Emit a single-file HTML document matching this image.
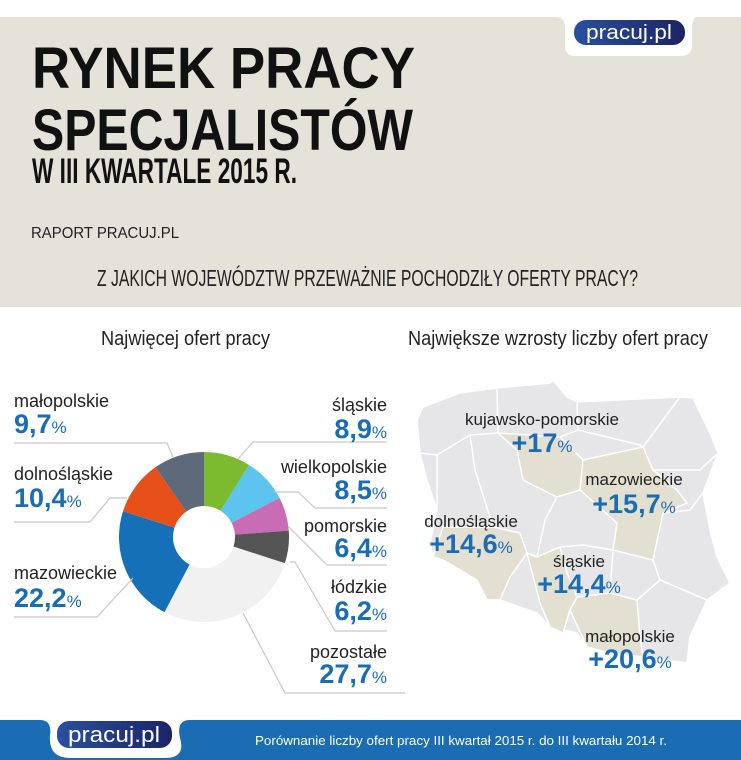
<!DOCTYPE html>
<html><head><meta charset="utf-8"><style>
html,body{margin:0;padding:0;background:#fff;width:741px;height:760px;overflow:hidden}
svg{display:block;font-family:"Liberation Sans",sans-serif}
</style></head><body>
<svg id="root" width="741" height="760" viewBox="0 0 741 760">
  <rect x="0" y="17" width="741" height="290" fill="#e4e2d9"/>
  <path d="M560,17 L697,17 Q692,17 692,30 L692,45 Q692,56 680,56 L575,56 Q565,56 565,45 L565,28 Q565,17 556,17 Z" fill="#fff"/>
  <defs><linearGradient id="pill" x1="0" y1="0" x2="1" y2="0"><stop offset="0" stop-color="#2a4fa0"/><stop offset="1" stop-color="#1b2464"/></linearGradient></defs>
  <g>
    <rect x="574" y="20" width="111" height="25" rx="12" fill="url(#pill)"/>
    <text x="629" y="39" font-size="20" fill="#fff" text-anchor="middle" textLength="86" lengthAdjust="spacingAndGlyphs">pracuj.pl</text>
  </g>
  <text x="32" y="88" font-size="58" font-weight="bold" textLength="383" lengthAdjust="spacingAndGlyphs" fill="#111">RYNEK PRACY</text>
  <text x="32" y="150" font-size="58" font-weight="bold" textLength="381" lengthAdjust="spacingAndGlyphs" fill="#111">SPECJALISTÓW</text>
  <text x="32" y="183" font-size="35" font-weight="bold" textLength="265" lengthAdjust="spacingAndGlyphs" fill="#111">W III KWARTALE 2015 R.</text>
  <text x="31" y="238" font-size="16" textLength="148" lengthAdjust="spacingAndGlyphs" fill="#222">RAPORT PRACUJ.PL</text>
  <text x="97" y="286" font-size="23" textLength="541" lengthAdjust="spacingAndGlyphs" fill="#222">Z JAKICH WOJEWÓDZTW PRZEWAŻNIE POCHODZIŁY OFERTY PRACY?</text>

  <text x="101" y="345" font-size="20" textLength="169" lengthAdjust="spacingAndGlyphs" fill="#222">Najwięcej ofert pracy</text>
  <text x="408" y="345" font-size="20" textLength="300" lengthAdjust="spacingAndGlyphs" fill="#222">Największe wzrosty liczby ofert pracy</text>

  <g id="donut"></g>
  <g id="leaders" fill="none" stroke="#c8c8c8" stroke-width="1.2">
    <polyline points="14,443 167,443 173,457"/>
    <polyline points="14,522 90,522 110,498 127,498"/>
    <polyline points="14,617 97,617 133,578"/>
    <polyline points="387,442 253,442 238,459"/>
    <polyline points="387,508 315,508 298,492 275,492"/>
    <polyline points="387,565 327,565 288,526"/>
    <polyline points="387,631 335,631 295,562 290,562"/>
    <polyline points="405,693 285,693 243,613"/>
  </g>
  <g id="labels"></g>

  <g>
    <polygon points="423,407 460,393 497,388 550,383 553,380 567,397 577,402 680,397 693,398 710,433 718,453 703,493 710,530 717,557 730,583 707,600 690,637 687,663 663,660 637,657 610,653 587,647 577,633 550,627 537,613 500,600 487,600 477,580 443,560 433,557 430,543 437,510 427,480 420,453 417,420" fill="#e6e6e8" stroke="#fff" stroke-width="1.5"/>
    <g fill="#e3e0d1" stroke="#fff" stroke-width="1.5">
      <polygon points="498,433 560,437 583,460 580,490 557,497 523,480 517,450"/>
      <polygon points="583,460 643,447 653,470 677,490 687,503 663,513 653,560 613,550 617,523 580,490"/>
      <polygon points="433,557 443,527 493,527 520,533 527,553 510,577 500,600 487,600 477,580 443,560"/>
      <polygon points="537,557 560,547 567,573 577,597 570,610 563,633 550,627 540,603 527,553"/>
      <polygon points="577,597 610,593 637,600 640,637 643,657 610,653 587,647 570,610"/>
    </g>
    <g fill="none" stroke="#fff" stroke-width="1.5">
      <polyline points="497,388 498,433 470,435 437,455 420,453"/>
      <polyline points="470,435 475,470 493,527"/>
      <polyline points="437,455 437,510"/>
      <polyline points="577,402 578,430 560,437"/>
      <polyline points="578,430 640,445 643,447 680,397"/>
      <polyline points="653,470 700,470 718,453"/>
      <polyline points="663,513 690,510 703,493"/>
      <polyline points="653,560 660,580 707,600"/>
      <polyline points="610,593 613,550"/>
      <polyline points="637,600 660,580"/>
      <polyline points="557,497 545,520 537,557"/>
      <polyline points="560,547 583,545 613,550"/>
    </g>
  </g>

  <g id="maplabels"></g>

  <rect x="0" y="720" width="741" height="40" fill="#1a6db3"/>
  <path d="M40,720 Q52,720 50,735 Q48,758 70,758 L165,758 Q186,758 180,738 Q176,720 190,720 Z" fill="#fff"/>
  <g>
    <rect x="57" y="721" width="115" height="27" rx="12" fill="url(#pill)"/>
    <text x="114" y="742" font-size="22" fill="#fff" text-anchor="middle" textLength="92" lengthAdjust="spacingAndGlyphs">pracuj.pl</text>
  </g>
  <text x="255" y="745" font-size="13" fill="#fff" textLength="412" lengthAdjust="spacingAndGlyphs">Porównanie liczby ofert pracy III kwartał 2015 r. do III kwartału 2014 r.</text>
</svg>
<script>
const categories = ["śląskie","wielkopolskie","pomorskie","łódzkie","pozostałe","mazowieckie","dolnośląskie","małopolskie"];
const shares = [8.9, 8.5, 6.4, 6.2, 27.7, 22.2, 10.4, 9.7];
const shareLabels = ["8,9","8,5","6,4","6,2","27,7","22,2","10,4","9,7"];
const growthRegions = ["kujawsko-pomorskie","mazowieckie","dolnośląskie","śląskie","małopolskie"];
const growthLabels = ["+17","+15,7","+14,6","+14,4","+20,6"];

const NS = "http://www.w3.org/2000/svg";
const sliceColors = ["#7cba2f","#5cc4ef","#c96cb6","#555555","#f1f1f1","#1570b8","#e8501a","#5e6a7a"];
const cx = 204, cy = 537, R = 85, r = 31;
const total = shares.reduce((a,b)=>a+b,0);
function angle(v){ return v/total*2*Math.PI - Math.PI/2; }
function pt(a, rad){ return [cx+rad*Math.cos(a), cy+rad*Math.sin(a)]; }
const donut = document.getElementById("donut");
let acc = 0;
shares.forEach((v,i)=>{
  const a0 = angle(acc), a1 = angle(acc+v); acc += v;
  const large = (a1-a0) > Math.PI ? 1 : 0;
  const p0=pt(a0,R), p1=pt(a1,R), q1=pt(a1,r), q0=pt(a0,r);
  const p = document.createElementNS(NS,"path");
  p.setAttribute("d",`M${p0[0]},${p0[1]} A${R},${R} 0 ${large} 1 ${p1[0]},${p1[1]} L${q1[0]},${q1[1]} A${r},${r} 0 ${large} 0 ${q0[0]},${q0[1]} Z`);
  p.setAttribute("fill",sliceColors[i]);
  
  
  donut.appendChild(p);
});

const labelPos = [[387,411,438,"end"],[387,473,499,"end"],[387,532,557,"end"],[387,593,620,"end"],[387,658,683,"end"],[14,579,607,"start"],[14,480,507,"start"],[14,407,433,"start"]];
const labels = document.getElementById("labels");
categories.forEach((c,i)=>{
  const [x,y1,y2,anc] = labelPos[i];
  const g = document.createElementNS(NS,"g");
  
  
  const t1 = document.createElementNS(NS,"text");
  t1.setAttribute("x",x); t1.setAttribute("y",y1); t1.setAttribute("text-anchor",anc);
  t1.setAttribute("font-size","18"); t1.setAttribute("fill","#222");
  t1.textContent = c;
  const t2 = document.createElementNS(NS,"text");
  t2.setAttribute("x",x); t2.setAttribute("y",y2); t2.setAttribute("text-anchor",anc);
  t2.setAttribute("fill","#1a6db3"); t2.setAttribute("font-weight","bold");
  t2.innerHTML = `<tspan font-size="27">${shareLabels[i]}</tspan><tspan font-size="17" font-weight="normal">%</tspan>`;
  g.appendChild(t1); g.appendChild(t2); labels.appendChild(g);
});

const mapPos = [[542,425,452],[634,485,513],[471,527,553],[579,567,593],[630,642,668]];
const ml = document.getElementById("maplabels");
growthRegions.forEach((c,i)=>{
  const [x,y1,y2] = mapPos[i];
  const g = document.createElementNS(NS,"g");
  
  
  const t1 = document.createElementNS(NS,"text");
  t1.setAttribute("x",x); t1.setAttribute("y",y1); t1.setAttribute("text-anchor","middle");
  t1.setAttribute("font-size","17"); t1.setAttribute("fill","#222");
  t1.textContent = c;
  const t2 = document.createElementNS(NS,"text");
  t2.setAttribute("x",x); t2.setAttribute("y",y2); t2.setAttribute("text-anchor","middle");
  t2.setAttribute("fill","#1a6db3"); t2.setAttribute("font-weight","bold");
  t2.innerHTML = `<tspan font-size="27">${growthLabels[i]}</tspan><tspan font-size="17" font-weight="normal">%</tspan>`;
  g.appendChild(t1); g.appendChild(t2); ml.appendChild(g);
});
</script>
</body></html>
